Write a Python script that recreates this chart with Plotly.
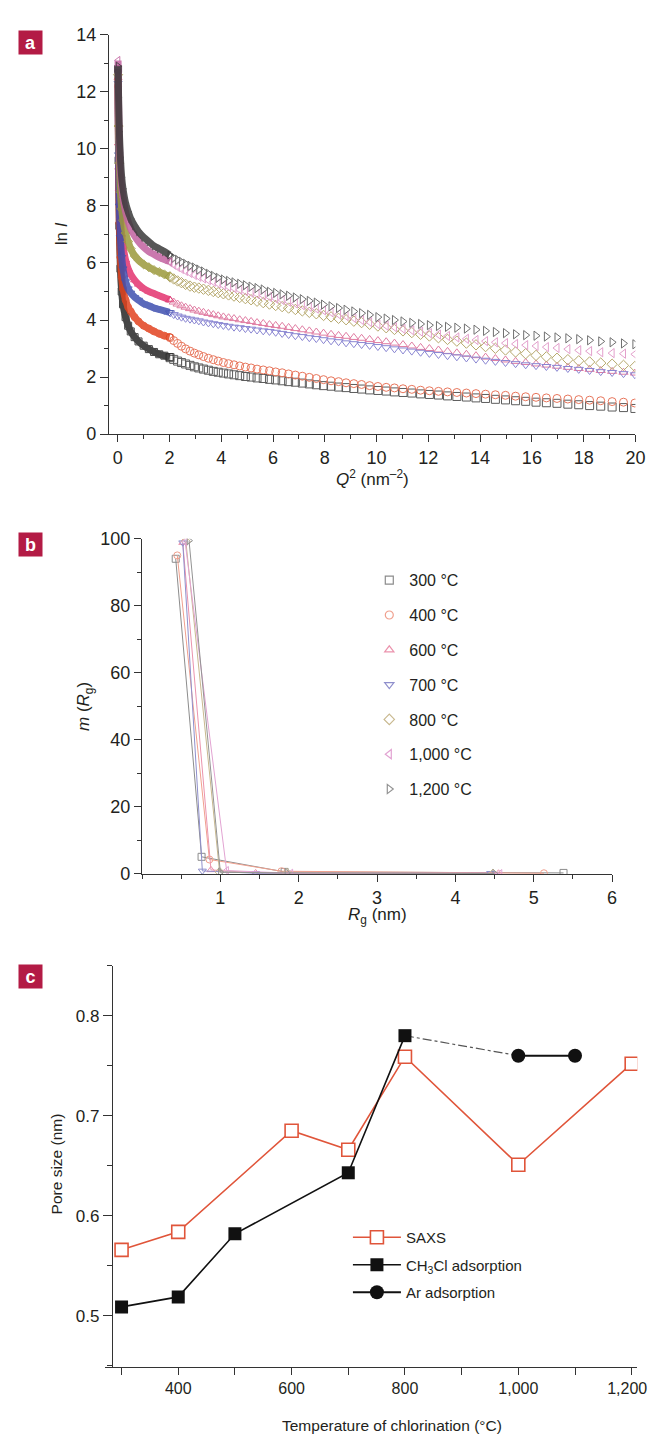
import plotly.graph_objects as go

W, H = 660, 1436


def fx(p):
    return p / W


def fy(p):
    return 1 - p / H


FONT = "Liberation Sans, Arial, Helvetica, sans-serif"
INK = "#231f20"
AXC = "#333333"
BADGE = "#b31b45"

# ---------------- Panel a : ln I vs Q^2 ----------------
temps = ["300 °C", "400 °C", "600 °C", "700 °C", "800 °C", "1,000 °C", "1,200 °C"]

q2_low = [0.01, 0.03, 0.06, 0.1, 0.15, 0.2, 0.3, 0.4, 0.5, 0.65, 0.8, 1.0, 1.2, 1.4, 1.6, 1.8, 2.0]
lnI_low_300 = [12.8, 9.6, 7.3, 5.8, 5.0, 4.55, 4.1, 3.8, 3.6, 3.4, 3.25, 3.1, 2.98, 2.88, 2.8, 2.75, 2.7]
lnI_low_400 = [12.2, 9.3, 7.4, 6.2, 5.5, 5.1, 4.7, 4.45, 4.3, 4.1, 3.95, 3.8, 3.7, 3.6, 3.52, 3.45, 3.4]
lnI_low_600 = [12.5, 10.2, 8.6, 7.6, 7.0, 6.6, 6.1, 5.8, 5.6, 5.4, 5.25, 5.1, 5.0, 4.93, 4.85, 4.78, 4.72]
lnI_low_700 = [12.3, 9.8, 8.0, 6.9, 6.2, 5.8, 5.35, 5.1, 4.95, 4.8, 4.7, 4.57, 4.5, 4.42, 4.37, 4.32, 4.27]
lnI_low_800 = [12.6, 10.8, 9.5, 8.5, 7.9, 7.5, 7.05, 6.75, 6.5, 6.25, 6.1, 5.95, 5.85, 5.75, 5.68, 5.6, 5.53]
lnI_low_1000 = [13.1, 11.6, 10.3, 9.3, 8.7, 8.3, 7.8, 7.45, 7.2, 6.95, 6.75, 6.55, 6.4, 6.3, 6.2, 6.12, 6.05]
lnI_low_1200 = [12.9, 11.8, 10.6, 9.7, 9.0, 8.6, 8.1, 7.8, 7.55, 7.3, 7.1, 6.9, 6.75, 6.6, 6.5, 6.4, 6.28]

q2_high = [
    2.02, 2.16, 2.31, 2.46, 2.62, 2.79, 2.96, 3.13, 3.31, 3.50,
    3.69, 3.88, 4.08, 4.28, 4.49, 4.71, 4.93, 5.15, 5.38, 5.62,
    5.86, 6.10, 6.35, 6.60, 6.86, 7.13, 7.40, 7.67, 7.95, 8.24,
    8.53, 8.82, 9.12, 9.42, 9.73, 10.05, 10.37, 10.69, 11.02, 11.36,
    11.70, 12.04, 12.39, 12.74, 13.10, 13.47, 13.84, 14.21, 14.59, 14.98,
    15.37, 15.76, 16.16, 16.56, 16.97, 17.39, 17.81, 18.23, 18.66, 19.10,
    19.54, 19.98,
]
lnI_high_300 = [
    2.68, 2.62, 2.56, 2.51, 2.46, 2.41, 2.36, 2.32, 2.28, 2.24,
    2.20, 2.17, 2.14, 2.11, 2.08, 2.05, 2.02, 2.00, 1.97, 1.95,
    1.92, 1.90, 1.87, 1.84, 1.82, 1.79, 1.76, 1.73, 1.70, 1.68,
    1.65, 1.63, 1.60, 1.58, 1.55, 1.53, 1.51, 1.48, 1.46, 1.44,
    1.41, 1.39, 1.37, 1.34, 1.32, 1.30, 1.27, 1.25, 1.22, 1.20,
    1.17, 1.15, 1.12, 1.10, 1.08, 1.05, 1.03, 1.00, 0.98, 0.95,
    0.93, 0.90,
]
lnI_high_400 = [
    3.38, 3.28, 3.18, 3.08, 2.99, 2.91, 2.84, 2.78, 2.72, 2.66,
    2.61, 2.56, 2.51, 2.47, 2.43, 2.39, 2.35, 2.32, 2.28, 2.25,
    2.22, 2.18, 2.15, 2.11, 2.07, 2.03, 1.99, 1.95, 1.91, 1.87,
    1.84, 1.80, 1.77, 1.74, 1.70, 1.67, 1.64, 1.62, 1.59, 1.57,
    1.54, 1.52, 1.50, 1.48, 1.46, 1.44, 1.42, 1.40, 1.38, 1.36,
    1.33, 1.31, 1.29, 1.27, 1.25, 1.23, 1.21, 1.19, 1.17, 1.14,
    1.12, 1.09,
]
lnI_high_600 = [
    4.70, 4.63, 4.56, 4.50, 4.45, 4.40, 4.35, 4.31, 4.27, 4.23,
    4.19, 4.15, 4.11, 4.08, 4.05, 4.01, 3.98, 3.95, 3.91, 3.88,
    3.84, 3.81, 3.78, 3.74, 3.70, 3.66, 3.62, 3.58, 3.54, 3.50,
    3.46, 3.43, 3.39, 3.36, 3.32, 3.28, 3.24, 3.19, 3.14, 3.09,
    3.04, 3.00, 2.95, 2.90, 2.85, 2.80, 2.75, 2.70, 2.65, 2.60,
    2.55, 2.51, 2.46, 2.42, 2.38, 2.34, 2.30, 2.27, 2.23, 2.20,
    2.17, 2.14,
]
lnI_high_700 = [
    4.25, 4.19, 4.14, 4.10, 4.06, 4.03, 4.00, 3.97, 3.93, 3.90,
    3.87, 3.84, 3.81, 3.78, 3.75, 3.73, 3.70, 3.68, 3.65, 3.62,
    3.60, 3.57, 3.53, 3.49, 3.45, 3.42, 3.38, 3.35, 3.31, 3.27,
    3.24, 3.20, 3.17, 3.14, 3.11, 3.07, 3.03, 2.99, 2.95, 2.91,
    2.87, 2.83, 2.79, 2.75, 2.71, 2.67, 2.63, 2.59, 2.55, 2.51,
    2.47, 2.43, 2.40, 2.37, 2.34, 2.30, 2.27, 2.23, 2.19, 2.16,
    2.12, 2.08,
]
lnI_high_800 = [
    5.51, 5.44, 5.37, 5.31, 5.25, 5.19, 5.15, 5.12, 5.08, 5.04,
    5.00, 4.96, 4.92, 4.88, 4.84, 4.79, 4.75, 4.71, 4.66, 4.61,
    4.56, 4.51, 4.47, 4.42, 4.37, 4.32, 4.27, 4.22, 4.16, 4.11,
    4.06, 4.01, 3.96, 3.91, 3.85, 3.79, 3.73, 3.67, 3.62, 3.56,
    3.50, 3.44, 3.38, 3.32, 3.26, 3.19, 3.13, 3.07, 3.01, 2.95,
    2.88, 2.82, 2.76, 2.71, 2.66, 2.61, 2.57, 2.53, 2.49, 2.45,
    2.41, 2.37,
]
lnI_high_1000 = [
    6.02, 5.94, 5.86, 5.79, 5.72, 5.65, 5.58, 5.52, 5.46, 5.40,
    5.34, 5.28, 5.22, 5.17, 5.12, 5.06, 5.01, 4.96, 4.91, 4.86,
    4.81, 4.75, 4.70, 4.64, 4.58, 4.52, 4.46, 4.40, 4.34, 4.27,
    4.20, 4.14, 4.07, 4.00, 3.93, 3.85, 3.80, 3.75, 3.69, 3.64,
    3.59, 3.54, 3.49, 3.44, 3.39, 3.34, 3.30, 3.26, 3.22, 3.19,
    3.16, 3.12, 3.09, 3.05, 3.02, 2.98, 2.94, 2.91, 2.87, 2.84,
    2.82, 2.80,
]
lnI_high_1200 = [
    6.25, 6.18, 6.11, 6.04, 5.97, 5.90, 5.84, 5.77, 5.70, 5.62,
    5.55, 5.48, 5.42, 5.37, 5.32, 5.27, 5.22, 5.17, 5.12, 5.07,
    4.99, 4.95, 4.90, 4.85, 4.79, 4.73, 4.67, 4.61, 4.54, 4.48,
    4.42, 4.36, 4.30, 4.24, 4.18, 4.10, 4.05, 4.00, 3.95, 3.90,
    3.86, 3.82, 3.79, 3.76, 3.73, 3.70, 3.66, 3.62, 3.58, 3.54,
    3.50, 3.47, 3.45, 3.42, 3.39, 3.36, 3.33, 3.29, 3.25, 3.22,
    3.18, 3.15,
]

# ---------------- Panel b : m(Rg) vs Rg ----------------
rg_300 = [0.43, 0.76, 1.82, 5.38]
m_300 = [94.0, 5.1, 0.6, 0.3]
rg_400 = [0.45, 0.86, 1.78, 5.13]
m_400 = [95.0, 4.3, 0.8, 0.2]
rg_600 = [0.52, 0.88, 1.45, 4.55]
m_600 = [98.8, 1.2, 0.3, 0.2]
rg_700 = [0.52, 0.77, 1.45, 4.45]
m_700 = [98.8, 0.9, 0.2, 0.2]
rg_800 = [0.56, 0.99, 1.85, 4.48]
m_800 = [99.2, 0.6, 0.3, 0.1]
rg_1000 = [0.55, 1.08, 1.90, 4.57]
m_1000 = [99.0, 1.0, 0.2, 0.1]
rg_1200 = [0.60, 1.00, 1.85, 4.50]
m_1200 = [99.4, 0.5, 0.3, 0.1]

# ---------------- Panel c : pore size vs temperature ----------------
saxs_T = [300, 400, 600, 700, 800, 1000, 1200]
saxs_size = [0.566, 0.584, 0.685, 0.666, 0.759, 0.651, 0.752]
ch3cl_T = [300, 400, 500, 700, 800]
ch3cl_size = [0.509, 0.519, 0.582, 0.643, 0.780]
link_T = [800, 1000]
link_size = [0.780, 0.760]
ar_T = [1000, 1100]
ar_size = [0.760, 0.760]
c_tickvals = [400, 600, 800, 1000, 1200]
c_ticktext = ["400", "600", "800", "1,000", "1,200\u00a0\u00a0"]

symbols = ["square-open", "circle-open", "triangle-up-open", "triangle-down-open",
           "diamond-open", "triangle-left-open", "triangle-right-open"]
dense_cols = ["#262626", "#e2431f", "#e3336f", "#3f50b0", "#9c9a3c", "#c262a0", "#3a3a3a"]
sparse_cols = ["#5c5c5c", "#e8765c", "#e07ca2", "#8a86d2", "#b6a86c", "#e3a0cc", "#707070"]
b_cols = ["#8c8c8c", "#f0a08e", "#eb93ad", "#8f8fcc", "#c9b98f", "#e2a3d2", "#939393"]

low_sets = [lnI_low_300, lnI_low_400, lnI_low_600, lnI_low_700, lnI_low_800, lnI_low_1000, lnI_low_1200]
high_sets = [lnI_high_300, lnI_high_400, lnI_high_600, lnI_high_700, lnI_high_800, lnI_high_1000, lnI_high_1200]
b_x = [rg_300, rg_400, rg_600, rg_700, rg_800, rg_1000, rg_1200]
b_y = [m_300, m_400, m_600, m_700, m_800, m_1000, m_1200]

fig = go.Figure()

# panel a traces
for i in range(len(temps)):
    fig.add_trace(go.Scatter(
        x=q2_high, y=high_sets[i], mode="markers", xaxis="x", yaxis="y",
        marker=dict(symbol=symbols[i], size=8, color=sparse_cols[i], line=dict(width=1)),
        showlegend=False, hoverinfo="skip"))
for i in range(len(temps)):
    fig.add_trace(go.Scatter(
        x=q2_low, y=low_sets[i], mode="lines+markers", xaxis="x", yaxis="y",
        line=dict(color=dense_cols[i], width=7, shape="spline", smoothing=0.7),
        opacity=0.85,
        marker=dict(symbol=symbols[i], size=7, color=dense_cols[i], line=dict(width=1)),
        showlegend=False, hoverinfo="skip"))

# panel b traces
for i in range(len(temps)):
    fig.add_trace(go.Scatter(
        x=b_x[i], y=b_y[i], mode="lines+markers", xaxis="x2", yaxis="y2",
        line=dict(color=b_cols[i], width=1),
        marker=dict(symbol=symbols[i], size=7, color=b_cols[i], line=dict(width=1)),
        showlegend=False, hoverinfo="skip"))
for i in range(len(temps)):
    fig.add_trace(go.Scatter(
        x=[None], y=[None], mode="markers", xaxis="x2", yaxis="y2",
        name=temps[i], legend="legend", legendgroup="g%d" % i,
        marker=dict(symbol=symbols[i], size=8, color=b_cols[i], line=dict(width=1.2))))

# panel c traces
fig.add_trace(go.Scatter(
    x=saxs_T, y=saxs_size, mode="lines+markers", xaxis="x3", yaxis="y3",
    name="SAXS", legend="legend2", legendgroup="c1",
    line=dict(color="#e0553a", width=1.6),
    marker=dict(symbol="square", size=13, color="white", line=dict(color="#e0553a", width=1.6))))
fig.add_trace(go.Scatter(
    x=link_T, y=link_size, mode="lines", xaxis="x3", yaxis="y3",
    line=dict(color="#555555", width=1.2, dash="dashdot"), showlegend=False, hoverinfo="skip"))
fig.add_trace(go.Scatter(
    x=ch3cl_T, y=ch3cl_size, mode="lines+markers", xaxis="x3", yaxis="y3",
    name="CH<sub>3</sub>Cl adsorption", legend="legend2", legendgroup="c2",
    line=dict(color="#111111", width=1.6),
    marker=dict(symbol="square", size=13, color="#111111")))
fig.add_trace(go.Scatter(
    x=ar_T, y=ar_size, mode="lines+markers", xaxis="x3", yaxis="y3",
    name="Ar adsorption", legend="legend2", legendgroup="c3",
    line=dict(color="#111111", width=2),
    marker=dict(symbol="circle", size=14, color="#111111")))

tickfont = dict(family=FONT, size=18, color=INK)
common = dict(showline=True, linecolor=AXC, linewidth=1.3, ticks="outside", tickcolor=AXC,
              tickwidth=1.2, showgrid=False, zeroline=False)

fig.update_layout(
    width=W, height=H, margin=dict(l=0, r=0, t=0, b=0),
    paper_bgcolor="white", plot_bgcolor="white",
    font=dict(family=FONT, color=INK),
    xaxis=dict(domain=[fx(104), fx(646)], range=[-0.34, 20], anchor="y",
               tickvals=list(range(0, 21, 2)), ticklen=7, tickfont=tickfont,
               minor=dict(ticks="outside", dtick=1, tick0=0, ticklen=4, tickcolor=AXC), **common),
    yaxis=dict(domain=[fy(422), fy(17)], range=[0, 14], anchor="x",
               tickvals=list(range(0, 15, 2)), ticklen=8, tickfont=tickfont,
               minor=dict(ticks="outside", dtick=1, tick0=0, ticklen=4, tickcolor=AXC), **common),
    xaxis2=dict(domain=[fx(138), fx(622)], range=[0, 6], anchor="y2",
                tickvals=[1, 2, 3, 4, 5, 6], ticklen=7, tickfont=tickfont,
                minor=dict(ticks="outside", dtick=0.5, tick0=0, ticklen=4, tickcolor=AXC), **common),
    yaxis2=dict(domain=[fy(868), fy(528)], range=[0, 100], anchor="x2",
                tickvals=[0, 20, 40, 60, 80, 100], ticklen=7, tickfont=tickfont,
                minor=dict(ticks="outside", dtick=10, tick0=0, ticklen=4, tickcolor=AXC), **common),
    xaxis3=dict(domain=[fx(100), fx(648)], range=[271, 1210], anchor="y3",
                tickvals=c_tickvals, ticktext=c_ticktext, ticklen=7,
                tickfont=dict(family=FONT, size=16, color=INK),
                minor=dict(ticks="outside", dtick=100, tick0=300, ticklen=7, tickcolor=AXC), **common),
    yaxis3=dict(domain=[fy(1368), fy(961)], range=[0.449, 0.85], anchor="free", position=fx(107),
                tickvals=[0.5, 0.6, 0.7, 0.8], ticklen=9,
                tickfont=dict(family=FONT, size=17, color=INK),
                minor=dict(ticks="outside", dtick=0.05, tick0=0.45, ticklen=5, tickcolor=AXC), **common),
    legend=dict(x=fx(372), y=fy(553), xanchor="left", yanchor="top",
                font=dict(family=FONT, size=16, color=INK), bgcolor="rgba(0,0,0,0)",
                tracegroupgap=11, itemwidth=30),
    legend2=dict(x=fx(350), y=fy(1220), xanchor="left", yanchor="top",
                 font=dict(family=FONT, size=15, color=INK), bgcolor="rgba(0,0,0,0)",
                 itemwidth=48, tracegroupgap=5),
)

ann = []
for lab, top in (("a", 12), ("b", 521), ("c", 959)):
    ann.append(dict(text="<b>%s</b>" % lab, x=fx(10), y=fy(top), xref="paper", yref="paper",
                    xanchor="left", yanchor="top", showarrow=False, width=23, height=23,
                    bgcolor=BADGE, borderpad=0,
                    font=dict(family=FONT, size=18, color="white")))

title_font = dict(family=FONT, size=17, color=INK)
ann += [
    dict(text="ln <i>I</i>", x=fx(56), y=fy(219), textangle=-90),
    dict(text="<i>Q</i><sup>2</sup> (nm<sup>–2</sup>)", x=fx(375), y=fy(467)),
    dict(text="<i>m</i> (<i>R</i><sub>g</sub>)", x=fx(80), y=fy(698), textangle=-90),
    dict(text="<i>R</i><sub>g</sub> (nm)", x=fx(380), y=fy(911)),
    dict(text="Pore size (nm)", x=fx(50), y=fy(1162), textangle=-90,
         font=dict(family=FONT, size=15.5, color=INK)),
    dict(text="Temperature of chlorination (°C)", x=fx(395), y=fy(1427),
         font=dict(family=FONT, size=15.5, color=INK)),
]
for a in ann[3:]:
    a.setdefault("font", title_font)
    a.update(xref="paper", yref="paper", showarrow=False, xanchor="center", yanchor="middle")

fig.update_layout(annotations=ann)
fig.write_html("out.html")
